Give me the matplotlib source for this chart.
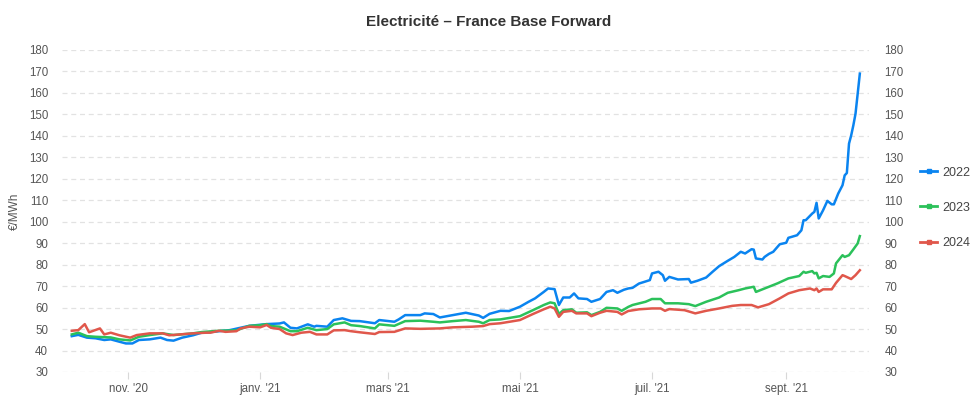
import pandas as pd
import matplotlib
matplotlib.use('Agg')
import matplotlib.pyplot as plt

# Cotations (€/MWh)
dates_2022 = ['2020-10-06', '2020-10-09', '2020-10-13', '2020-10-17', '2020-10-21', '2020-10-24',
              '2020-10-28', '2020-10-31', '2020-11-03', '2020-11-06', '2020-11-11', '2020-11-16',
              '2020-11-19', '2020-11-22', '2020-11-26', '2020-12-01', '2020-12-05', '2020-12-08',
              '2020-12-13', '2020-12-18', '2020-12-22', '2020-12-27', '2021-01-01', '2021-01-04',
              '2021-01-10', '2021-01-12', '2021-01-15', '2021-01-18', '2021-01-23', '2021-01-26',
              '2021-01-27', '2021-02-01', '2021-02-04', '2021-02-08', '2021-02-12', '2021-02-16',
              '2021-02-23', '2021-02-25', '2021-03-04', '2021-03-06', '2021-03-09', '2021-03-16',
              '2021-03-18', '2021-03-22', '2021-03-25', '2021-03-31', '2021-04-06', '2021-04-12',
              '2021-04-14', '2021-04-17', '2021-04-22', '2021-04-26', '2021-05-01', '2021-05-05',
              '2021-05-08', '2021-05-12', '2021-05-14', '2021-05-17', '2021-05-19', '2021-05-21',
              '2021-05-24', '2021-05-26', '2021-05-28', '2021-06-01', '2021-06-03', '2021-06-07',
              '2021-06-10', '2021-06-13', '2021-06-15', '2021-06-18', '2021-06-20', '2021-06-22',
              '2021-06-25', '2021-06-30', '2021-07-01', '2021-07-04', '2021-07-06', '2021-07-07',
              '2021-07-09', '2021-07-13', '2021-07-18', '2021-07-19', '2021-07-22', '2021-07-26',
              '2021-07-29', '2021-08-01', '2021-08-05', '2021-08-08', '2021-08-11', '2021-08-13',
              '2021-08-16', '2021-08-17', '2021-08-18', '2021-08-21', '2021-08-22', '2021-08-24',
              '2021-08-26', '2021-08-29', '2021-09-01', '2021-09-02', '2021-09-06', '2021-09-08',
              '2021-09-09', '2021-09-10', '2021-09-13', '2021-09-14', '2021-09-15', '2021-09-16',
              '2021-09-18', '2021-09-20', '2021-09-22', '2021-09-23', '2021-09-25', '2021-09-27',
              '2021-09-28', '2021-09-29', '2021-09-30', '2021-10-01', '2021-10-02', '2021-10-03',
              '2021-10-04', '2021-10-05']
values_2022 = [46.7, 47.3, 46.0, 45.7, 44.9, 45.2,
               44.1, 43.3, 43.3, 44.9, 45.2, 46.0,
               44.9, 44.6, 46.0, 47.1, 48.3, 48.5,
               49.0, 49.5, 50.4, 51.5, 52.0, 52.3,
               52.6, 53.1, 50.6, 50.3, 52.2, 51.1,
               51.5, 51.1, 54.2, 55.0, 53.8, 53.7,
               52.7, 54.2, 53.4, 54.5, 56.5, 56.5,
               57.3, 57.0, 55.4, 56.5, 57.6, 56.3,
               55.2, 57.1, 58.5, 58.4, 60.4, 62.7,
               64.3, 67.3, 68.9, 68.6, 61.2, 64.7,
               64.7, 66.6, 64.3, 64.0, 62.7, 64.0,
               67.3, 68.1, 66.9, 68.3, 68.9, 69.2,
               71.2, 72.8, 75.9, 76.7, 75.1, 72.5,
               74.3, 73.1, 73.3, 71.6, 72.5, 74.0,
               76.7, 79.3, 81.8, 83.6, 86.0, 85.2,
               87.2, 87.0, 82.9, 82.4, 83.6, 85.0,
               86.0, 89.5, 90.2, 92.5, 93.7, 96.0,
               100.7, 100.7, 103.8, 104.6, 108.8, 101.5,
               105.3, 109.7, 108.1, 108.1, 113.1, 117.0,
               121.6, 122.7, 136.4, 140.2, 144.9, 150.3,
               159.6, 169.0]

dates_2023 = ['2020-10-06', '2020-10-09', '2020-10-13', '2020-10-17', '2020-10-24', '2020-10-28',
              '2020-11-02', '2020-11-06', '2020-11-11', '2020-11-17', '2020-11-22', '2020-12-01',
              '2020-12-05', '2020-12-13', '2020-12-21', '2020-12-27', '2021-01-01', '2021-01-04',
              '2021-01-06', '2021-01-10', '2021-01-15', '2021-01-18', '2021-01-23', '2021-01-27',
              '2021-02-01', '2021-02-04', '2021-02-09', '2021-02-12', '2021-02-16', '2021-02-23',
              '2021-02-25', '2021-03-04', '2021-03-09', '2021-03-16', '2021-03-22', '2021-03-25',
              '2021-03-31', '2021-04-06', '2021-04-12', '2021-04-14', '2021-04-17', '2021-04-22',
              '2021-05-01', '2021-05-07', '2021-05-12', '2021-05-15', '2021-05-17', '2021-05-19',
              '2021-05-21', '2021-05-25', '2021-05-27', '2021-06-01', '2021-06-03', '2021-06-07',
              '2021-06-10', '2021-06-15', '2021-06-17', '2021-06-20', '2021-06-22', '2021-06-28',
              '2021-07-01', '2021-07-05', '2021-07-07', '2021-07-13', '2021-07-18', '2021-07-21',
              '2021-07-26', '2021-08-01', '2021-08-05', '2021-08-10', '2021-08-13', '2021-08-17',
              '2021-08-18', '2021-08-24', '2021-08-28', '2021-09-02', '2021-09-07', '2021-09-09',
              '2021-09-10', '2021-09-13', '2021-09-14', '2021-09-15', '2021-09-16', '2021-09-18',
              '2021-09-21', '2021-09-23', '2021-09-24', '2021-09-27', '2021-09-28', '2021-09-30',
              '2021-10-02', '2021-10-04', '2021-10-05']
values_2023 = [47.5, 48.3, 46.7, 46.4, 46.1, 45.2,
               44.7, 46.4, 47.2, 48.0, 47.2, 48.0,
               48.6, 49.2, 49.4, 51.5, 51.8, 52.3,
               51.4, 51.1, 49.0, 49.0, 50.6, 49.5,
               50.0, 52.2, 53.1, 51.8, 51.4, 50.3,
               52.2, 51.5, 53.7, 53.9, 53.4, 53.1,
               53.7, 54.2, 53.4, 52.7, 54.2, 54.5,
               56.0, 58.8, 61.2, 62.4, 62.0, 57.0,
               58.8, 59.2, 57.6, 57.8, 56.5, 58.0,
               59.9, 59.6, 58.5, 60.3, 61.2, 62.7,
               64.0, 64.0, 62.0, 62.0, 61.6, 60.7,
               62.7, 64.7, 66.9, 68.1, 68.9, 69.7,
               67.3, 69.7, 71.3, 73.6, 74.7, 76.7,
               76.2, 77.0, 75.9, 76.2, 73.6, 74.7,
               74.3, 75.9, 80.6, 84.4, 83.6, 84.4,
               87.1, 89.9, 93.3]

dates_2024 = ['2020-10-06', '2020-10-09', '2020-10-12', '2020-10-14', '2020-10-19', '2020-10-21',
              '2020-10-24', '2020-10-28', '2020-11-02', '2020-11-05', '2020-11-11', '2020-11-17',
              '2020-11-20', '2020-11-25', '2020-12-01', '2020-12-07', '2020-12-09', '2020-12-13',
              '2020-12-16', '2020-12-21', '2020-12-23', '2020-12-27', '2021-01-01', '2021-01-04',
              '2021-01-06', '2021-01-10', '2021-01-13', '2021-01-16', '2021-01-20', '2021-01-24',
              '2021-01-27', '2021-02-01', '2021-02-04', '2021-02-09', '2021-02-12', '2021-02-16',
              '2021-02-23', '2021-02-25', '2021-03-04', '2021-03-09', '2021-03-16', '2021-03-25',
              '2021-03-31', '2021-04-09', '2021-04-14', '2021-04-17', '2021-04-22', '2021-05-01',
              '2021-05-07', '2021-05-12', '2021-05-15', '2021-05-17', '2021-05-19', '2021-05-21',
              '2021-05-25', '2021-05-27', '2021-06-01', '2021-06-03', '2021-06-07', '2021-06-10',
              '2021-06-15', '2021-06-17', '2021-06-20', '2021-06-25', '2021-07-01', '2021-07-05',
              '2021-07-07', '2021-07-09', '2021-07-16', '2021-07-21', '2021-07-26', '2021-08-01',
              '2021-08-07', '2021-08-11', '2021-08-16', '2021-08-19', '2021-08-24', '2021-08-29',
              '2021-09-02', '2021-09-07', '2021-09-12', '2021-09-14', '2021-09-15', '2021-09-16',
              '2021-09-18', '2021-09-22', '2021-09-24', '2021-09-27', '2021-09-28', '2021-10-01',
              '2021-10-03', '2021-10-05']
values_2024 = [49.2, 49.5, 52.3, 48.5, 50.3, 47.5,
               48.3, 47.1, 46.0, 47.2, 48.0, 48.0,
               47.1, 47.5, 48.0, 48.3, 48.3, 49.2,
               48.7, 49.0, 50.3, 51.1, 50.8, 51.9,
               50.6, 50.0, 48.0, 47.2, 48.3, 48.7,
               47.5, 47.5, 49.4, 49.5, 49.0, 48.5,
               47.7, 48.6, 48.7, 50.3, 50.1, 50.3,
               50.8, 51.1, 51.4, 52.3, 52.7, 54.2,
               57.0, 59.2, 60.4, 59.6, 55.7, 58.0,
               58.5, 57.3, 57.3, 56.0, 57.6, 58.5,
               58.0, 56.8, 58.4, 59.2, 59.6, 59.6,
               58.5, 59.3, 58.8, 57.3, 58.5, 59.6,
               60.8, 61.2, 61.2, 60.1, 61.6, 64.3,
               66.6, 68.1, 68.9, 68.1, 68.9, 67.3,
               68.5, 68.5, 71.5, 75.1, 74.7, 73.3,
               75.1, 77.4]

tick_dates = ['2020-11-01', '2021-01-01', '2021-03-01', '2021-05-01', '2021-07-01', '2021-09-01']
tick_labels = ["nov. '20", "janv. '21", "mars '21", "mai '21", "juil. '21", "sept. '21"]
y_ticks = list(range(30, 181, 10))

plt.rcParams['font.family'] = ['Liberation Sans', 'DejaVu Sans']

fig = plt.figure(figsize=(9.77, 4.2), dpi=100)
ax = fig.add_axes([0.0635, 0.1143, 0.8260, 0.7667])

series = [
    ('2022', dates_2022, values_2022, '#0a84f0'),
    ('2023', dates_2023, values_2023, '#2bc15a'),
    ('2024', dates_2024, values_2024, '#e0574b'),
]
for name, d, v, c in series:
    ax.plot(pd.to_datetime(d), v, color=c, lw=1.8, label=name, zorder=3,
            solid_joinstyle='round')

ax.set_xlim(pd.Timestamp('2020-10-01 12:00'), pd.Timestamp('2021-10-09 06:00'))
ax.set_ylim(30, 180)
ax.set_yticks(y_ticks)
ax.set_xticks(pd.to_datetime(tick_dates))
ax.set_xticklabels(tick_labels)

for s in ax.spines.values():
    s.set_visible(False)
ax.grid(axis='y', color='#e2e2e2', lw=0.9, linestyle=(0, (4, 3)))
ax.grid(axis='x', visible=False)
ax.tick_params(axis='x', length=5, color='#d8d8d8', labelsize=8.3, labelcolor='#555555', pad=3)
ax.tick_params(axis='y', length=0, labelsize=8.3, labelcolor='#555555', pad=10)

ax2 = ax.twinx()
ax2.set_ylim(30, 180)
ax2.set_yticks(y_ticks)
for s in ax2.spines.values():
    s.set_visible(False)
ax2.tick_params(axis='y', length=0, labelsize=8.3, labelcolor='#555555', pad=11)

ax.set_ylabel('€/MWh', fontsize=8.5, color='#555555')
ax.yaxis.set_label_coords(-0.051, 0.5)
fig.suptitle('Electricité – France Base Forward', x=0.5, y=0.965, fontsize=11,
             fontweight='bold', color='#333333')

handles = []
for name, d, v, c in series:
    h, = ax.plot([], [], color=c, lw=2, marker='s', markersize=3.5, label=name)
    handles.append(h)
fig.legend(handles=handles, labels=[s[0] for s in series], loc='upper left',
           bbox_to_anchor=(0.93, 0.63), frameon=False, fontsize=9,
           labelcolor='#444444', handlelength=1.4, handletextpad=0.4, labelspacing=1.85)

fig.savefig('out.png', dpi=100)
